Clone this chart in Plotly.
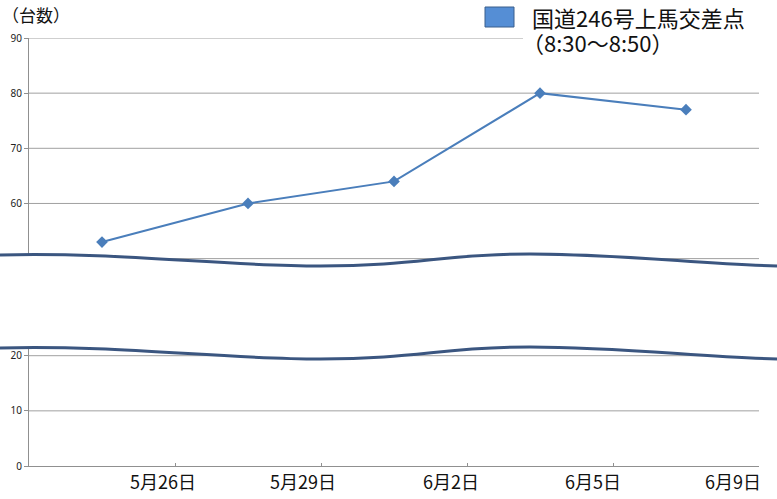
import plotly.graph_objects as go

# ---- data ----
categories = ["5月26日", "5月29日", "6月2日", "6月5日", "6月9日"]
values = [53, 60, 64, 80, 77]
series_line1 = "国道246号上馬交差点"
series_line2 = "（8:30〜8:50）"
y_title = "（台数）"
ytick_values = [0, 10, 20, 60, 70, 80, 90]
grid_values = [0, 10, 20, 50, 60, 70, 80, 90]

# broken axis mapping: 0-20 linear, 50-90 shifted down
BREAK_LOW, BREAK_HIGH, GAP = 20, 50, 17.6
def to_disp(v):
    return v if v <= BREAK_LOW else v - BREAK_HIGH + BREAK_LOW + GAP

x_pos = [i + 0.5 for i in range(len(categories))]
label_pos = [0.918, 1.877, 2.89, 3.863, 4.82]

W, H = 777, 499
L, R, T, B = 29, 18, 38, 33
pw, ph = W - L - R, H - T - B

def px(x):
    return (x - L) / pw
def py(y):
    return (H - B - y) / ph

fig = go.Figure()
fig.add_trace(go.Scatter(
    x=x_pos, y=[to_disp(v) for v in values], mode="lines+markers",
    line=dict(color="#4A7EBB", width=2),
    marker=dict(symbol="diamond", size=9, color="#4A7EBB"),
    showlegend=False, hoverinfo="skip"))

# gridlines
shapes = []
for g in grid_values[1:]:
    d = to_disp(g)
    shapes.append(dict(type="line", xref="paper", yref="y", x0=0, x1=1, y0=d, y1=d,
                       line=dict(color="#A0A0A0", width=1), layer="below"))

# wave break
def wave(dy):
    segs = [((0, 255), (120, 252), (220, 266), (320, 266)),
            ((320, 266), (420, 266), (440, 254), (530, 254)),
            ((530, 254), (620, 254), (700, 264), (777, 266))]
    return [tuple((p[0], p[1] + dy) for p in s) for s in segs]

def fmt(p):
    return f"{px(p[0]):.5f},{py(p[1]):.5f}"

up = wave(0)
lo = wave(93)
path_up = "M " + fmt(up[0][0]) + " " + " ".join("C " + " ".join(fmt(p) for p in s[1:]) for s in up)
path_lo = "M " + fmt(lo[0][0]) + " " + " ".join("C " + " ".join(fmt(p) for p in s[1:]) for s in lo)
rev_lo = " ".join("C " + fmt(s[2]) + " " + fmt(s[1]) + " " + fmt(s[0]) for s in reversed(lo))
fill_path = path_up + " L " + fmt(lo[-1][3]) + " " + rev_lo + " Z"
shapes.append(dict(type="path", xref="paper", yref="paper", path=fill_path,
                   fillcolor="white", line=dict(width=0), layer="above"))
for pth in (path_up, path_lo):
    shapes.append(dict(type="path", xref="paper", yref="paper", path=pth,
                       line=dict(color="#3B5680", width=3), layer="above"))

# legend background + swatch
shapes.append(dict(type="rect", xref="paper", yref="paper",
                   x0=px(523), x1=px(777), y0=py(58), y1=py(0),
                   fillcolor="white", line=dict(width=0), layer="above"))
shapes.append(dict(type="rect", xref="paper", yref="paper",
                   x0=px(485), x1=px(514), y0=py(27), y1=py(7),
                   fillcolor="#558ED5", line=dict(color="#3B5E8C", width=1), layer="above"))

lf = dict(family="Noto Sans CJK JP", size=22, color="#111")
annotations = [
    dict(text=series_line1, xref="paper", yref="paper", x=px(530), y=py(17),
         xanchor="left", yanchor="middle", showarrow=False, font=lf),
    dict(text=series_line2, xref="paper", yref="paper", x=px(520), y=py(42),
         xanchor="left", yanchor="middle", showarrow=False, font=lf),
    dict(text=y_title, xref="paper", yref="paper", x=px(0), y=py(0),
         xanchor="left", yanchor="top", showarrow=False,
         font=dict(family="Noto Sans CJK JP", size=17, color="#111")),
]
for xp_, c in zip(label_pos, categories):
    annotations.append(dict(text=c, xref="x", yref="paper", x=xp_, y=py(481),
                            xanchor="center", yanchor="middle", showarrow=False,
                            font=dict(family="Noto Sans CJK JP", size=18, color="#111")))

fig.update_layout(
    width=W, height=H, margin=dict(l=L, r=R, t=T, b=B),
    paper_bgcolor="white", plot_bgcolor="white",
    shapes=shapes, annotations=annotations,
    xaxis=dict(range=[0, 5], showgrid=False, zeroline=False, showline=True,
               linecolor="#909090", linewidth=1, showticklabels=False,
               tickvals=[1, 2, 3, 4, 5], ticks="inside", ticklen=3, tickcolor="#909090"),
    yaxis=dict(range=[0, to_disp(90)], showgrid=False, zeroline=False, showline=True,
               linecolor="#909090", linewidth=1,
               tickvals=[to_disp(v) for v in ytick_values],
               ticktext=[str(v) for v in ytick_values],
               ticks="outside", ticklen=4, tickcolor="#909090",
               tickfont=dict(family="Noto Sans", size=10, color="#222")),
)
fig.write_html("out.html", config={"displayModeBar": False},
               post_script="document.body.style.margin='0';document.body.style.overflow='hidden';")
